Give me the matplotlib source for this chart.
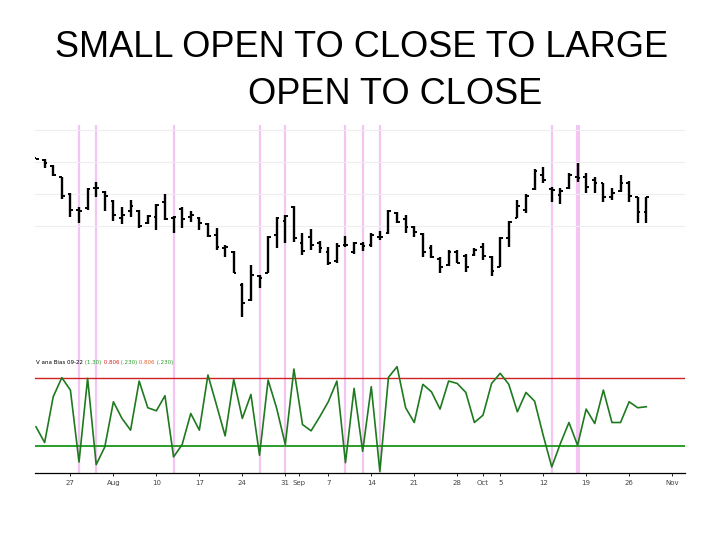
import matplotlib.pyplot as plt
import numpy as np

title_line1 = 'SMALL OPEN TO CLOSE TO LARGE'
title_line2 = 'OPEN TO CLOSE'

# daily OHLC bars, 21 Jul .. 28 Oct
opens = [30.12, 30.06, 29.87, 29.52, 29.00, 28.49, 28.55, 29.18, 29.07, 28.79,
         28.24, 28.48, 28.48, 28.08, 28.29, 28.76, 28.24, 28.52, 28.29, 28.26,
         28.06, 27.72, 27.30, 27.20, 26.16, 25.69, 26.42, 26.54, 27.72, 28.17,
         28.60, 27.48, 27.65, 27.48, 27.20, 26.91, 27.41, 27.20, 27.44, 27.40,
         27.67, 27.77, 28.42, 28.21, 27.96, 27.75, 27.30, 26.96, 26.78, 27.20,
         27.06, 27.09, 27.35, 27.02, 26.73, 27.61, 28.24, 28.50, 29.15, 29.59,
         29.15, 28.97, 29.18, 29.54, 29.54, 29.44, 29.33, 28.92, 29.10, 29.35,
         28.90, 28.45]
highs = [30.14, 30.09, 29.91, 29.54, 29.02, 28.60, 29.18, 29.39, 29.09, 28.81,
         28.58, 28.81, 28.50, 28.34, 28.69, 29.00, 28.31, 28.58, 28.48, 28.29,
         28.08, 27.93, 27.41, 27.23, 26.21, 26.78, 26.47, 27.69, 28.29, 28.34,
         28.63, 27.77, 27.90, 27.54, 27.35, 27.46, 27.69, 27.51, 27.51, 27.77,
         27.85, 28.50, 28.45, 28.34, 28.00, 27.77, 27.41, 27.02, 27.25, 27.25,
         27.11, 27.30, 27.46, 27.06, 27.67, 28.17, 28.81, 29.00, 29.77, 29.85,
         29.23, 29.20, 29.65, 29.96, 29.67, 29.52, 29.35, 29.18, 29.59, 29.41,
         28.92, 28.92]
lows = [30.09, 29.80, 29.56, 28.86, 28.29, 28.10, 28.50, 28.90, 28.48, 28.17,
        28.06, 28.29, 27.93, 28.06, 27.88, 28.19, 27.79, 27.93, 28.14, 27.88,
        27.65, 27.25, 27.02, 26.52, 25.15, 25.64, 26.05, 26.52, 27.30, 27.46,
        27.51, 27.09, 27.25, 27.15, 26.77, 26.84, 27.35, 27.13, 27.23, 27.35,
        27.56, 27.75, 28.08, 27.77, 27.67, 27.04, 27.01, 26.52, 26.75, 26.83,
        26.57, 27.06, 26.94, 26.42, 26.71, 27.35, 28.24, 28.42, 29.13, 29.35,
        28.76, 28.69, 29.15, 29.39, 29.02, 29.02, 28.76, 28.81, 29.07, 28.76,
        28.10, 28.08]
closes = [30.11, 29.98, 29.59, 28.94, 28.50, 28.47, 29.15, 29.20, 28.94, 28.34,
          28.35, 28.63, 28.00, 28.31, 28.66, 28.21, 28.29, 28.21, 28.34, 28.08,
          27.69, 27.33, 27.35, 26.52, 25.60, 26.47, 26.36, 27.67, 28.24, 28.31,
          27.61, 27.23, 27.41, 27.30, 26.84, 27.38, 27.39, 27.48, 27.38, 27.72,
          27.66, 28.48, 28.14, 27.98, 27.82, 27.20, 27.04, 26.73, 27.20, 26.84,
          26.73, 27.25, 27.06, 26.60, 27.61, 28.14, 28.63, 28.94, 29.73, 29.44,
          29.13, 29.09, 29.59, 29.49, 29.23, 29.33, 28.92, 29.04, 29.33, 28.94,
          28.45, 28.90]

# open-to-close indicator (lower panel)
indicator = [36.9, 23.0, 63.7, 80.6, 69.6, 5.7, 80.0, 3.4, 19.1, 59.2,
             44.4, 34.0, 77.6, 53.9, 51.2, 64.6, 10.2, 21.2, 48.8, 34.0,
             83.0, 56.2, 28.9, 79.1, 44.4, 65.7, 11.7, 78.5, 53.3, 21.2,
             88.3, 39.0, 33.4, 45.8, 59.2, 77.6, 5.1, 71.1, 15.2, 72.6,
             -2.6, 80.9, 90.4, 53.9, 40.8, 74.7, 68.1, 52.7, 77.6, 75.5,
             67.5, 40.8, 47.3, 75.5, 84.5, 74.7, 50.3, 67.5, 59.8, 29.5,
             1.3, 22.1, 40.8, 20.6, 52.7, 39.9, 69.6, 40.8, 40.8, 59.2,
             53.9, 54.8]
upper_level = 80
lower_level = 20
signal_bars = [5, 7, 16, 26, 29, 36, 38, 40, 60, 63]

tick_pos = [4, 9, 14, 19, 24, 29, 30.6, 34, 39, 44, 49, 52, 54, 59, 64, 69, 74]
tick_labels = ['27', 'Aug', '10', '17', '24', '31', 'Sep', '7', '14', '21', '28',
               'Oct', '5', '12', '19', '26', 'Nov']

legend_parts = [('V ana Bias 09-22', 'black'), ('(1.30)', '#2a9d2a'), ('0.806', '#cc2222'),
                ('(.230)', '#2a9d2a'), ('0.806', '#e06030'), ('(.230)', '#2a9d2a')]

x = np.arange(len(opens))
pink = '#f4c4f2'

fig = plt.figure(figsize=(7.2, 5.4), dpi=100)
fig.text(55 / 720, 1 - 57 / 540, title_line1, fontsize=26, family='Liberation Sans',
         ha='left', va='baseline')
fig.text(248 / 720, 1 - 104 / 540, title_line2, fontsize=26, family='Liberation Sans',
         ha='left', va='baseline')

ax = fig.add_axes([35 / 720, 190 / 540, 650 / 720, 225 / 540])
ax2 = fig.add_axes([35 / 720, 67 / 540, 650 / 720, 123 / 540], sharex=ax)

# price bars
for s in signal_bars:
    w = 3.0 if s == 63 else 1.6
    ax.axvline(s, color=pink, lw=w, zorder=0)
    ax2.axvline(s, color=pink, lw=w, zorder=0)
ax.vlines(x, lows, highs, color='black', lw=1.7)
ax.hlines(opens, x - 0.32, x, color='black', lw=1.4)
ax.hlines(closes, x, x + 0.32, color='black', lw=1.4)

ax.set_xlim(-0.12, 75.5)
ax.set_ylim(24.12, 31.16)
ax.set_yticks([28, 29, 30, 31])
ax.grid(axis='y', color='#eeeeee', lw=0.8)
ax.set_axisbelow(True)
ax.tick_params(left=False, bottom=False, labelleft=False, labelbottom=False)
for sp in ax.spines.values():
    sp.set_visible(False)

# indicator panel
ax2.axhline(upper_level, color='#cc2222', lw=1.0)
ax2.axhline(lower_level, color='#2a9d2a', lw=1.4)
ax2.plot(x, indicator, color='#1f7a1f', lw=1.2)
ax2.set_ylim(-4.06, 105.2)
ax2.set_yticks([])
for name, sp in ax2.spines.items():
    sp.set_visible(name == 'bottom')
ax2.spines['bottom'].set_linewidth(0.9)
ax2.set_xticks(tick_pos)
ax2.set_xticklabels(tick_labels, fontsize=5, color='#444444')
ax2.tick_params(axis='x', length=2, width=0.6, pad=3)

# tiny indicator legend
t = ax2.text(0.002, 0.88, legend_parts[0][0], transform=ax2.transAxes, fontsize=4,
             color=legend_parts[0][1], va='bottom')
for txt, col in legend_parts[1:]:
    t = ax2.annotate(' ' + txt, xy=(1, 0), xycoords=t, fontsize=4, color=col, va='bottom')

plt.savefig('out.png', dpi=100)
